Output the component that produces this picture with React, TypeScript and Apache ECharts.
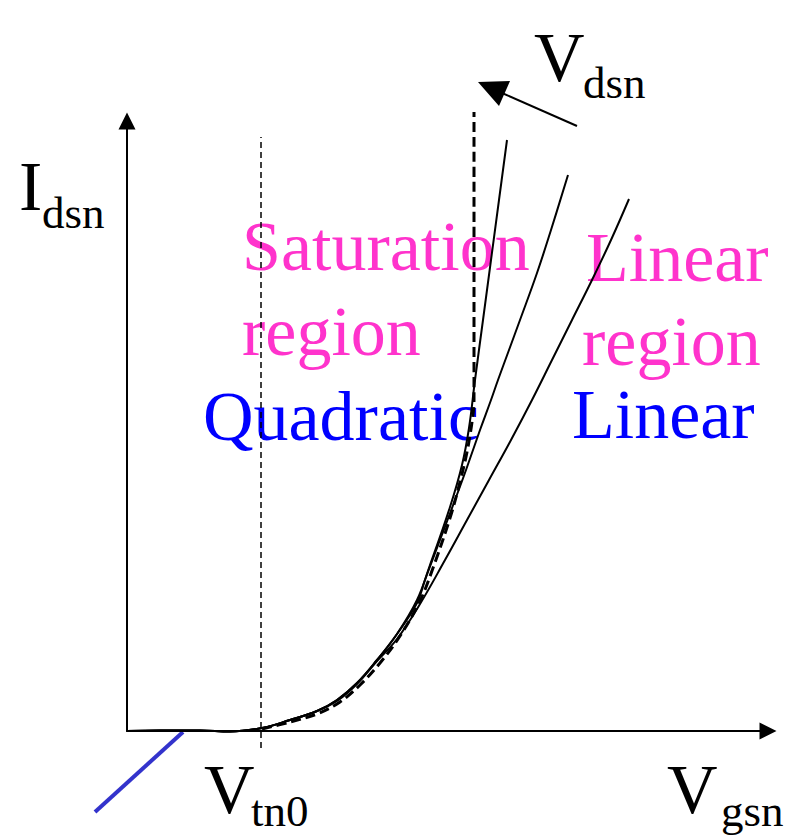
import React, { useEffect, useRef } from "react";
import * as echarts from "echarts";

// Units: horizontal = gate voltage (arbitrary units), vertical = drain current (arbitrary units)
const VT0 = 13.4;
const curve1X = [0, 3.3, 7.3, 10.3, 13.5, 16.3, 19.0, 21.0, 23.0, 25.0, 27.0, 29.0, 30.3, 32.3, 33.5, 34.2, 34.8, 35.6, 37.2, 38.0];
const curve1Y = [0, 0.05, 0.05, -0.05, 0.3, 1.1, 2.0, 3.1, 4.8, 7.1, 9.7, 13.1, 16.6, 22.4, 26.6, 30.3, 35.1, 41.1, 53.1, 59.1];
const curve2X = [0, 3.3, 7.3, 10.3, 13.5, 16.3, 19.0, 21.0, 23.0, 25.0, 27.0, 29.0, 29.8, 31.3, 32.8, 33.9, 35.3, 36.4, 37.1, 38.2, 39.3, 41.0, 42.4, 44.1];
const curve2Y = [0, 0.05, 0.05, -0.05, 0.3, 1.1, 2.0, 3.1, 4.8, 7.1, 9.7, 12.8, 15.1, 19.1, 23.1, 26.1, 30.1, 33.1, 35.1, 38.1, 41.1, 45.8, 50.1, 55.6];
const curve3X = [0, 3.3, 7.3, 10.3, 13.5, 16.3, 19.0, 21.0, 23.0, 25.0, 27.0, 29.3, 31.8, 34.0, 36.2, 38.4, 40.5, 42.5, 44.5, 46.5, 48.4, 50.2];
const curve3Y = [0, 0.05, 0.05, -0.05, 0.3, 1.1, 2.0, 3.0, 4.7, 7.0, 9.2, 12.7, 17.1, 21.1, 25.1, 29.1, 33.1, 37.1, 41.1, 45.1, 49.1, 53.2];
const satX = [13.5, 16.3, 19.0, 21.3, 23.3, 25.3, 27.3, 29.3, 30.6, 32.3, 33.3, 34.0, 34.5, 34.7, 34.7];
const satY = [0.2, 0.9, 1.7, 2.9, 4.6, 6.8, 9.5, 13.0, 16.3, 21.3, 24.9, 27.9, 30.9, 33.1, 61.9];
const vtLineY = [-1.7, 59.4];
const blueX = [5.6, -3.2];
const blueY = [-0.1, -8.1];

const zip = (xs: number[], ys: number[]) => xs.map((x, i) => [x, ys[i]]);

const SERIF = "Liberation Serif";
const PINK = "#ff33cc";
const BLUE = "#0000ff";

function txt(text: string, x: number, baseline: number, size: number, color: string) {
  return {
    type: "text",
    x,
    y: baseline - size * 0.3375,
    silent: true,
    style: {
      text,
      fill: color,
      fontSize: size,
      fontFamily: SERIF,
      textAlign: "left",
      textVerticalAlign: "middle",
      verticalAlign: "middle",
    },
  };
}

export default function App() {
  const ref = useRef<HTMLDivElement>(null);
  useEffect(() => {
    if (!ref.current) return;
    const chart = echarts.init(ref.current, undefined, { renderer: "svg" });
    const solid = { color: "#000", width: 2 };
    const axisCommon = {
      type: "value",
      axisTick: { show: false },
      axisLabel: { show: false },
      splitLine: { show: false },
    };
    const axisLine = {
      show: true,
      onZero: false,
      symbol: ["none", "triangle"],
      symbolSize: [17, 17],
      lineStyle: { color: "#000", width: 2 },
    };
    chart.setOption({
      animation: false,
      backgroundColor: "#fff",
      grid: { left: 127, right: 19, top: 121, bottom: 106 },
      xAxis: { ...axisCommon, min: 0, max: 64.1, axisLine },
      yAxis: { ...axisCommon, min: 0, max: 61, axisLine },
      series: [
        {
          type: "line",
          name: "Vtn0",
          data: zip([VT0, VT0], vtLineY),
          showSymbol: false,
          clip: false,
          lineStyle: { color: "#000", width: 1.5, type: [6, 4] },
        },
        {
          type: "line",
          name: "curve3",
          data: zip(curve3X, curve3Y),
          smooth: 0.4,
          showSymbol: false,
          clip: false,
          lineStyle: solid,
        },
        {
          type: "line",
          name: "curve2",
          data: zip(curve2X, curve2Y),
          smooth: 0.4,
          showSymbol: false,
          clip: false,
          lineStyle: solid,
        },
        {
          type: "line",
          name: "curve1",
          data: zip(curve1X, curve1Y),
          smooth: 0.4,
          showSymbol: false,
          clip: false,
          lineStyle: solid,
        },
        {
          type: "line",
          name: "saturation",
          data: zip(satX, satY),
          smooth: 0.35,
          showSymbol: false,
          clip: false,
          lineStyle: { color: "#000", width: 3, type: [10, 5] },
        },
      ],
    });

    const b1 = chart.convertToPixel({ gridIndex: 0 }, [blueX[0], blueY[0]]) as number[];
    const b2 = chart.convertToPixel({ gridIndex: 0 }, [blueX[1], blueY[1]]) as number[];

    chart.setOption({
      graphic: [
        {
          type: "line",
          silent: true,
          shape: { x1: b1[0], y1: b1[1], x2: b2[0], y2: b2[1] },
          style: { stroke: "#3333cc", lineWidth: 4 },
        },
        {
          type: "line",
          silent: true,
          shape: { x1: 577, y1: 126, x2: 502, y2: 93 },
          style: { stroke: "#000", lineWidth: 2 },
        },
        {
          type: "polygon",
          silent: true,
          shape: { points: [[478, 82], [510, 81], [499, 106]] },
          style: { fill: "#000" },
        },
        txt("V", 534, 81, 70, "#000"),
        txt("dsn", 583, 98, 45, "#000"),
        txt("I", 19, 210, 70, "#000"),
        txt("dsn", 42, 228, 45, "#000"),
        txt("Saturation", 242, 270, 70, PINK),
        txt("region", 242, 355, 70, PINK),
        txt("Quadratic", 203, 440, 70, BLUE),
        txt("Linear", 586, 281, 70, PINK),
        txt("region", 582, 365, 70, PINK),
        txt("Linear", 572, 438, 70, BLUE),
        txt("V", 204, 813, 70, "#000"),
        txt("tn0", 251, 826, 45, "#000"),
        txt("V", 667, 813, 70, "#000"),
        txt("gsn", 721, 826, 45, "#000"),
      ],
    });
    return () => chart.dispose();
  }, []);
  return (
    <div
      ref={ref}
      style={{ position: "absolute", left: 0, top: 0, width: 787, height: 837 }}
    />
  );
}
